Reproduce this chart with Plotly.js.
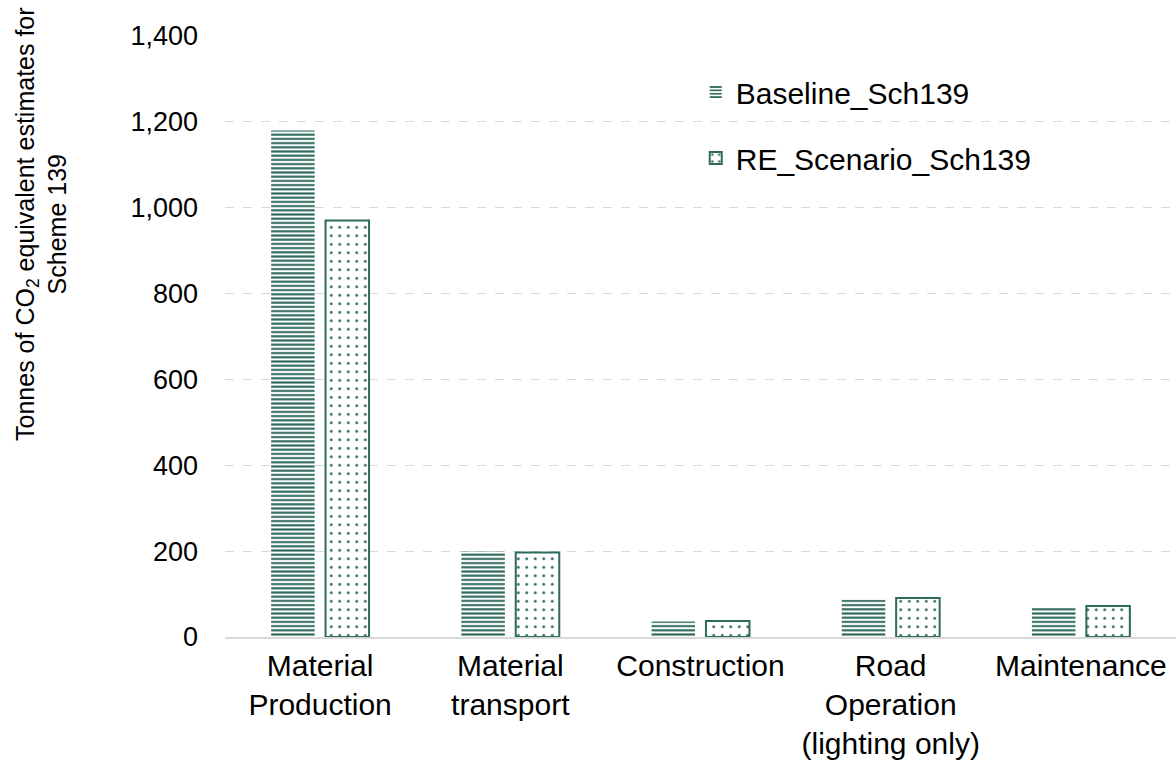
<!DOCTYPE html>
<html>
<head>
<meta charset="utf-8">
<script src="https://cdn.plot.ly/plotly-3.0.1.min.js"></script>
<style>
  html, body { margin: 0; padding: 0; background: #fff; }
  #chart { width: 1176px; height: 769px; }
</style>
</head>
<body>
<div id="chart"></div>
<script>
// Life-cycle stages on the x axis
const categories = [
  "Material<br>Production",
  "Material<br>transport",
  "Construction",
  "Road<br>Operation<br>(lighting only)",
  "Maintenance"
];

// Tonnes of CO2 equivalent per stage
const baselineValues = [1180, 199, 36, 87, 69];
const reScenarioValues = [970, 197, 37, 91, 72];

const seriesNames = ["Baseline_Sch139", "RE_Scenario_Sch139"];

const yTickValues = [0, 200, 400, 600, 800, 1000, 1200, 1400];

const green = "#2E6A5D";
const fontFamily = "Liberation Sans, Arial, sans-serif";

const traces = [
  {
    type: "bar",
    name: seriesNames[0],
    legendgroup: "a",
    x: categories,
    y: baselineValues,
    marker: {
      color: "#ffffff",
      line: { width: 0 },
      pattern: { shape: "-", fgcolor: green, bgcolor: "#ffffff", size: 4.2, solidity: 0.5 }
    },
    hoverinfo: "skip"
  },
  {
    type: "bar",
    name: seriesNames[1],
    legendgroup: "b",
    x: categories,
    y: reScenarioValues,
    marker: {
      color: "#ffffff",
      line: { width: 2, color: green },
      pattern: { shape: ".", fgcolor: green, bgcolor: "#ffffff", size: 8.5, solidity: 0.09 }
    },
    hoverinfo: "skip"
  }
];

const layout = {
  width: 1176,
  height: 769,
  margin: { l: 225, r: 0, t: 36, b: 132 },
  paper_bgcolor: "#ffffff",
  plot_bgcolor: "#ffffff",
  font: { family: fontFamily, size: 28, color: "#000000" },
  barmode: "group",
  bargap: 0.428,
  bargroupgap: 0.2,
  showlegend: true,
  legend: {
    x: 0.495, y: 0.95,
    xanchor: "left", yanchor: "top",
    bgcolor: "rgba(0,0,0,0)",
    font: { family: fontFamily, size: 30, color: "#000000" },
    tracegroupgap: 24,
    itemwidth: 30
  },
  xaxis: {
    type: "category",
    showgrid: false,
    showline: true,
    linecolor: "#D9D9D9",
    linewidth: 2,
    ticks: "",
    ticklabelstandoff: 1,
    tickfont: { family: fontFamily, size: 30, color: "#000000" }
  },
  yaxis: {
    range: [0, 1400],
    tickvals: yTickValues,
    tickformat: ",",
    showgrid: true,
    gridcolor: "#D9D9D9",
    griddash: "dash",
    gridwidth: 1,
    zeroline: false,
    showline: false,
    ticks: "",
    ticklabelstandoff: 26,
    tickfont: { family: fontFamily, size: 27, color: "#000000" }
  },
  annotations: [
    {
      text: "Tonnes of CO<sub>2</sub> equivalent estimates for<br>Scheme 139",
      textangle: -90,
      xref: "paper", yref: "paper",
      x: -0.193, y: 0.688,
      xanchor: "center", yanchor: "middle",
      showarrow: false,
      font: { family: fontFamily, size: 25, color: "#000000" }
    }
  ]
};

Plotly.newPlot("chart", traces, layout, { displayModeBar: false, staticPlot: true });
</script>
</body>
</html>
